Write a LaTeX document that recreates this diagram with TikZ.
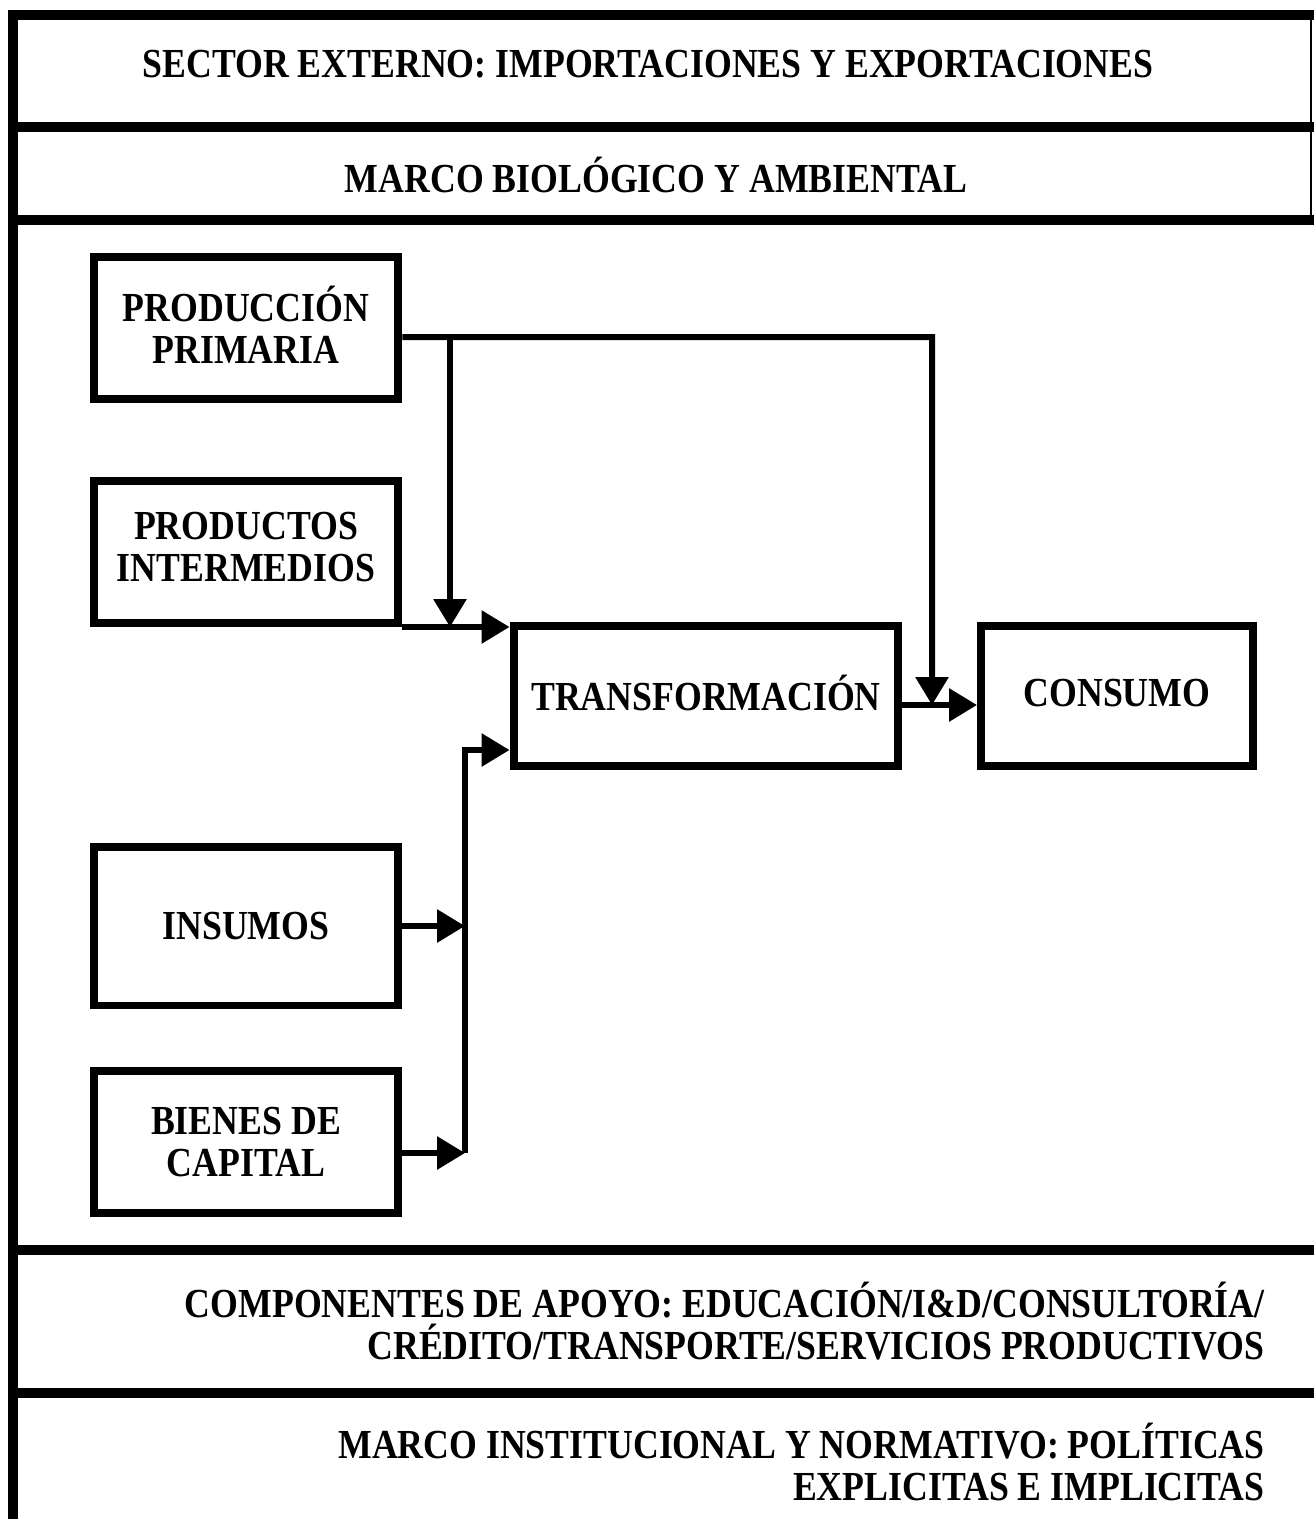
\documentclass[tikz,border=0pt]{standalone}
\usepackage{fontspec}
\setmainfont{Liberation Serif}[FakeStretch=0.866]
\usetikzlibrary{arrows.meta}

\begin{document}
\begin{tikzpicture}[x=0.02cm,y=-0.02cm,>={Triangle[length=0.56cm,width=0.64cm]}]
\tikzset{rotulo/.style={font=\bfseries\fontsize{23.5}{24}\selectfont,inner sep=0pt},
  pie/.style={rotulo,align=right,anchor=east},
  etapa/.style={rotulo,draw=black,line width=0.16cm,minimum width=6.1cm,
    minimum height=2.84cm,align=center},
  flujo/.style={line width=0.12cm,->},
  marco/.style={line width=0.2cm}}
\useasboundingbox (0,0) rectangle (1314,1519);
% ---------- franjas del marco ----------
\draw[marco] (13,1519) -- (13,15) -- (1314,15);
\foreach \y in {127,220,1250,1393}
  \draw[marco] (8,\y) -- (1314,\y);
\draw[line width=0.04cm] (1311,15) -- (1311,220);
\node[rotulo] (externo) at (648,64) {SECTOR EXTERNO: IMPORTACIONES Y EXPORTACIONES};
\node[rotulo] (biologico) at (656,175) {MARCO BIOLÓGICO Y AMBIENTAL};
\node[pie] (apoyo) at (1265,1321)
  {COMPONENTES DE APOYO: EDUCACIÓN/I\&D/CONSULTORÍA/\\CRÉDITO/TRANSPORTE/SERVICIOS PRODUCTIVOS};
\node[pie] (institucional) at (1265,1462)
  {MARCO INSTITUCIONAL Y NORMATIVO: POLÍTICAS\\EXPLICITAS E IMPLICITAS};
% ---------- etapas ----------
\node[etapa,text depth=0.4em] (primaria) at (246,328) {PRODUCCIÓN\\PRIMARIA};
\node[etapa,text depth=0.6em] (intermedios) at (246,552) {PRODUCTOS\\INTERMEDIOS};
\node[etapa,minimum height=3.18cm] (insumos) at (246,926) {INSUMOS};
\node[etapa] (capital) at (246,1142) {BIENES DE\\CAPITAL};
\node[etapa,text depth=0.4em,minimum width=7.7cm,minimum height=2.8cm] (transf) at (706,696) {TRANSFORMACIÓN};
\node[etapa,text depth=0.4em,minimum width=5.44cm,minimum height=2.8cm] (consumo) at (1117,696) {CONSUMO};
% ---------- flujos ----------
\coordinate (salida) at ([yshift=-0.18cm]primaria.east);
\coordinate (final) at ([yshift=-0.18cm]transf.east);
\coordinate (bienes) at ([yshift=-0.22cm]capital.east);
\coordinate (codo) at (932,337);
\coordinate (rama) at (450,337);
\coordinate (bus) at (465,750);
\draw[flujo] (salida) -- (codo) -- (codo |- final);
\draw[flujo] (rama) -- (rama |- intermedios.south east);
\draw[flujo] (intermedios.south east) -- (intermedios.south east -| transf.west);
\draw[flujo] (final) -- (final -| consumo.west);
\draw[flujo] (insumos.east) -- (insumos.east -| bus);
\draw[flujo] (bienes) -- (bienes -| bus);
\draw[flujo] (bienes -| bus) -- (bus) -- (bus -| transf.west);
\end{tikzpicture}
\end{document}
